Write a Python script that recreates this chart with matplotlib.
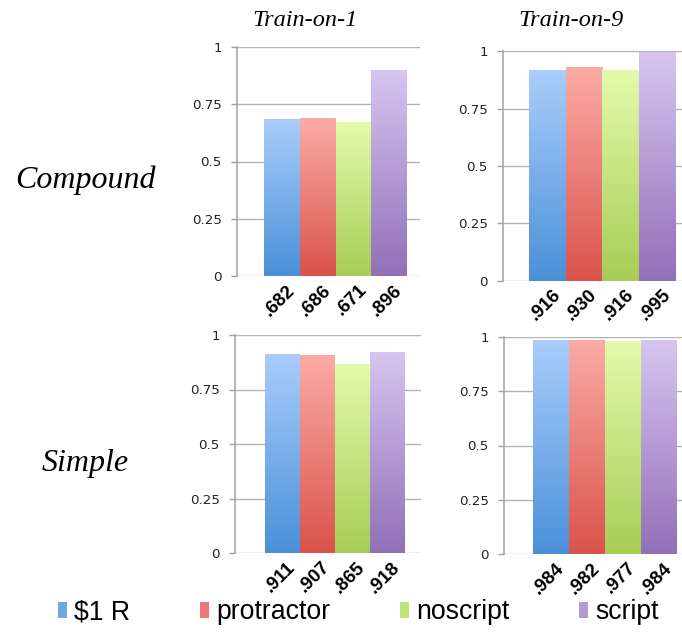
import numpy as np
import matplotlib
matplotlib.use("Agg")
import matplotlib.pyplot as plt
from matplotlib.colors import LinearSegmentedColormap
from matplotlib.patches import Patch

# ---- data -------------------------------------------------------------
methods = ["\\$1 R", "protractor", "noscript", "script"]
compound_train1 = [0.682, 0.686, 0.671, 0.896]
compound_train9 = [0.916, 0.930, 0.916, 0.995]
simple_train1 = [0.911, 0.907, 0.865, 0.918]
simple_train9 = [0.984, 0.982, 0.977, 0.984]
row_titles = ["Compound", "Simple"]
col_titles = ["Train-on-1", "Train-on-9"]
yticks = [0, 0.25, 0.5, 0.75, 1]
ytick_labels = ["0", "0.25", "0.5", "0.75", "1"]

# ---- styling ----------------------------------------------------------
W, H = 682, 632
DPI = 100
grad_colors = [
    ("#4A90D9", "#AACDFB"),  # $1 R
    ("#D9534B", "#FBABA6"),  # protractor
    ("#A8CD55", "#E3FAAC"),  # noscript
    ("#9170B8", "#D7C5F0"),  # script
]
legend_colors = ["#6FA6E6", "#E87A73", "#C3E27E", "#B29AD6"]
grid_color = "#B4B4B4"

fig = plt.figure(figsize=(W / DPI, H / DPI), dpi=DPI)
fig.patch.set_facecolor("white")


def px_axes(left, right, bottom, top):
    return fig.add_axes([left / W, 1 - bottom / H, (right - left) / W, (bottom - top) / H])


def short_label(v):
    # accuracy printed without the leading zero, e.g. 0.682 -> ".682"
    return f"{v:.3f}"[1:]


panels = [
    # (values, axes box in px, xlim)
    (compound_train1, (237, 420, 276, 47), (-1.26, 3.86)),
    (compound_train9, (503, 689, 281, 51), (-1.21, 3.86)),
    (simple_train1, (235, 421, 553, 335), (-1.36, 3.96)),
    (simple_train9, (504, 690, 554, 337), (-1.31, 3.86)),
]

x = np.arange(len(methods))
ramp = np.linspace(0, 1, 256).reshape(-1, 1)

for vals, box, xlim in panels:
    ax = px_axes(*box)
    bars = ax.bar(x, vals, width=1.0, color=legend_colors, zorder=2, linewidth=0)
    for bar, (c0, c1) in zip(bars, grad_colors):
        cmap = LinearSegmentedColormap.from_list("g", [c0, c1])
        bx, bw, bh = bar.get_x(), bar.get_width(), bar.get_height()
        ax.imshow(ramp, cmap=cmap, extent=[bx, bx + bw, 0, bh], origin="lower",
                  aspect="auto", zorder=3, interpolation="bilinear")
    ax.set_xlim(*xlim)
    ax.set_ylim(0, 1)
    ax.set_yticks(yticks)
    ax.set_yticklabels(ytick_labels, fontsize=9.6, color="#222222",
                       family="DejaVu Sans")
    ax.tick_params(axis="y", length=4, width=1, color="#A0A0A0", pad=7)
    ax.set_xticks([])
    ax.yaxis.grid(True, color=grid_color, linewidth=1, zorder=1)
    ax.set_axisbelow(True)
    for s in ("top", "right", "bottom"):
        ax.spines[s].set_visible(False)
    ax.spines["left"].set_color("#A8A8A8")
    ax.spines["left"].set_linewidth(1.2)
    for xi, v in zip(x, vals):
        ax.annotate(short_label(v), xy=(xi + 0.12, 0), xytext=(0, -4),
                    textcoords="offset points",
                    ha="right", va="top", rotation=45, rotation_mode="anchor",
                    fontsize=13.5, fontweight="bold", family="Liberation Sans",
                    color="black", annotation_clip=False)

# column and row titles
for cx, t in zip([305, 571], col_titles):
    fig.text(cx / W, 1 - 26 / H, t, ha="center", va="baseline", fontsize=17.5,
             style="italic", family="Liberation Serif")
for (cx, by), t in zip([(85, 188), (85, 471)], row_titles):
    fig.text(cx / W, 1 - by / H, t, ha="center", va="baseline", fontsize=23,
             style="italic", family="Liberation Serif")

# legend
handles = [Patch(facecolor=c, edgecolor="none") for c in legend_colors]
fig.legend(handles, methods, loc="center left", bbox_to_anchor=(58 / W, 1 - 612 / H),
           ncol=4, frameon=False, borderpad=0, borderaxespad=0,
           handlelength=0.35, handleheight=0.55, handletextpad=0.25,
           columnspacing=2.62, prop={"family": "Liberation Sans", "size": 19.2})

fig.savefig("out.png", dpi=DPI)
